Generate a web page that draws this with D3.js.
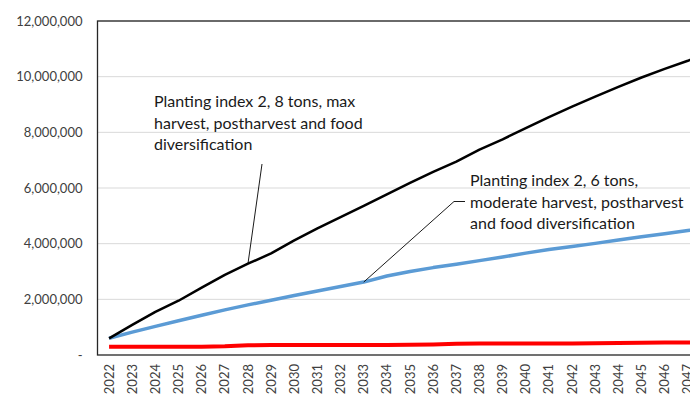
<!DOCTYPE html>
<html>
<head>
<meta charset="utf-8">
<script src="https://cdn.jsdelivr.net/npm/d3@7/dist/d3.min.js"></script>
<style>
  html, body { margin: 0; padding: 0; background: #fff; }
  svg { display: block; font-family: Lato, "Open Sans", sans-serif; }
</style>
</head>
<body>
<svg id="chart" width="690" height="399"></svg>
<script>
// Years on the category axis
const years = d3.range(2022, 2049);

// Planting index 2, 8 tons, max harvest, postharvest and food diversification
const maxScenario = [0.60, 1.08, 1.55, 1.95, 2.42, 2.88, 3.28, 3.65, 4.12, 4.55, 4.95, 5.36, 5.77,
  6.18, 6.58, 6.95, 7.38, 7.75, 8.15, 8.55, 8.92, 9.28, 9.63, 9.97, 10.28, 10.57, 10.90].map(v => v * 1e6);

// Planting index 2, 6 tons, moderate harvest, postharvest and food diversification
const moderateScenario = [0.60, 0.82, 1.03, 1.23, 1.43, 1.62, 1.80, 1.97, 2.14, 2.30, 2.46, 2.62, 2.84,
  3.00, 3.14, 3.26, 3.39, 3.52, 3.66, 3.79, 3.90, 4.01, 4.13, 4.25, 4.36, 4.47, 4.58].map(v => v * 1e6);

// Baseline
const baseline = [0.30, 0.30, 0.30, 0.30, 0.30, 0.31, 0.35, 0.36, 0.36, 0.36, 0.36, 0.36, 0.36,
  0.37, 0.38, 0.40, 0.41, 0.41, 0.41, 0.41, 0.41, 0.42, 0.43, 0.44, 0.45, 0.45, 0.46].map(v => v * 1e6);

const yTicks = [0, 2e6, 4e6, 6e6, 8e6, 10e6, 12e6];

const maxLabel = ["Planting index 2, 8 tons, max", "harvest, postharvest and food", "diversification"];
const moderateLabel = ["Planting index 2, 6 tons,", "moderate harvest, postharvest", "and food diversification"];

const svg = d3.select("#chart");
const plot = { left: 97.5, top: 21, bottom: 355, step: 23.15 };
plot.right = plot.left + years.length * plot.step;

const x = d3.scaleBand().domain(years).range([plot.left, plot.right]);
const cx = yr => x(yr) + x.bandwidth() / 2;
const y = d3.scaleLinear().domain([0, 12e6]).range([plot.bottom, plot.top]);

// Horizontal gridlines
svg.append("g")
  .selectAll("line")
  .data(yTicks.slice(1))
  .join("line")
  .attr("x1", plot.left).attr("x2", plot.right)
  .attr("y1", d => y(d)).attr("y2", d => y(d))
  .attr("stroke", "#d9d9d9").attr("stroke-width", 1);

// Y axis labels
const yAxis = d3.axisLeft(y)
  .tickValues(yTicks)
  .tickSize(0)
  .tickPadding(15)
  .tickFormat(d => d === 0 ? "-" : d3.format(",")(d));
const gy = svg.append("g").attr("transform", `translate(${plot.left},0)`).call(yAxis);
gy.select(".domain").remove();
gy.selectAll("text").attr("font-size", 13).attr("fill", "#404040")
  .attr("font-family", "Lato, sans-serif");

// X axis labels, rotated
const xAxis = d3.axisBottom(x).tickSize(0).tickPadding(0);
const gx = svg.append("g").attr("transform", `translate(0,${plot.bottom})`).call(xAxis);
gx.select(".domain").remove();
gx.selectAll("text")
  .attr("font-size", 13).attr("fill", "#404040")
  .attr("font-family", "Lato, sans-serif")
  .attr("text-anchor", "end")
  .attr("transform", "rotate(-90)")
  .attr("x", -9).attr("y", 0).attr("dy", "0.35em");

// Series lines
const line = values => d3.line()
  .x((d, i) => cx(years[i]))
  .y(d => y(d))(values);

const series = [
  { values: baseline, color: "#ff0000", width: 4 },
  { values: moderateScenario, color: "#5b9bd5", width: 3.5 },
  { values: maxScenario, color: "#000000", width: 2.5 }
];
svg.append("g").selectAll("path")
  .data(series)
  .join("path")
  .attr("d", d => line(d.values))
  .attr("fill", "none")
  .attr("stroke", d => d.color)
  .attr("stroke-width", d => d.width)
  .attr("stroke-linejoin", "round")
  .attr("stroke-linecap", "butt");

// Plot frame
svg.append("rect")
  .attr("x", plot.left).attr("y", plot.top)
  .attr("width", plot.right - plot.left).attr("height", plot.bottom - plot.top)
  .attr("fill", "none").attr("stroke", "#262626").attr("stroke-width", 1.3);

// Callouts
function callout(lines, tx, ty, pts) {
  const g = svg.append("g");
  g.append("polyline")
    .attr("points", pts.map(p => p.join(",")).join(" "))
    .attr("fill", "none").attr("stroke", "#000").attr("stroke-width", 0.9);
  g.append("text")
    .attr("font-size", 16).attr("fill", "#1a1a1a")
    .selectAll("tspan")
    .data(lines)
    .join("tspan")
    .attr("x", tx)
    .attr("y", (d, i) => ty + i * 21.7)
    .text(d => d);
}

const i28 = years.indexOf(2028);
callout(maxLabel, 154, 107, [[262, 164], [cx(2028), y(maxScenario[i28])]]);

const i33 = years.indexOf(2033);
callout(moderateLabel, 470, 186, [[465, 201.5], [454, 201.5], [cx(2033), y(moderateScenario[i33])]]);
</script>
</body>
</html>
